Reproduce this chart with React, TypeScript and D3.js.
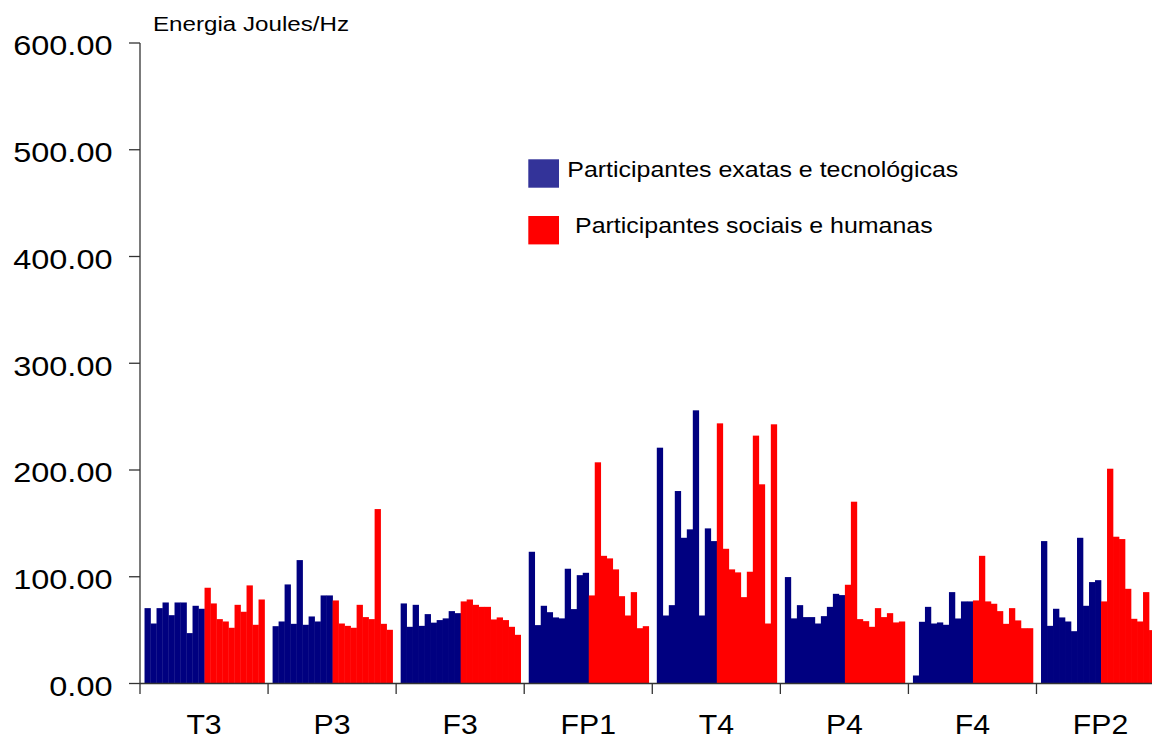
import React from "react";
import * as d3 from "d3";

const groups = ["T3", "P3", "F3", "FP1", "T4", "P4", "F4", "FP2"];
const yTicks = [0, 100, 200, 300, 400, 500, 600];

// Participantes exatas e tecnológicas (10 participants per electrode)
const exatas: number[][] = [
  [70.6, 56.2, 70.6, 75.9, 64.0, 75.9, 75.9, 47.2, 72.8, 70.0],
  [53.7, 58.1, 92.8, 55.9, 115.6, 55.0, 62.8, 58.1, 82.5, 82.5],
  [75.0, 53.1, 73.7, 54.0, 65.0, 57.0, 59.4, 61.0, 67.8, 65.9],
  [123.4, 54.7, 72.8, 66.8, 61.9, 61.0, 107.5, 69.7, 101.5, 103.7],
  [220.9, 63.7, 73.4, 180.3, 136.5, 144.4, 255.9, 63.7, 145.3, 133.4],
  [99.7, 61.0, 73.4, 62.2, 62.2, 56.2, 63.1, 71.8, 84.0, 82.8],
  [7.5, 57.8, 71.8, 56.2, 57.2, 55.0, 85.6, 60.9, 76.9, 76.9],
  [133.4, 54.0, 70.0, 61.9, 58.1, 49.0, 136.5, 72.8, 95.0, 96.8],
];

// Participantes sociais e humanas
const sociais: number[][] = [
  [89.7, 75.0, 60.3, 58.1, 52.2, 73.7, 67.2, 91.9, 55.0, 78.7],
  [77.8, 56.2, 54.0, 52.2, 73.7, 62.2, 60.3, 163.4, 55.9, 50.3],
  [76.9, 78.7, 73.7, 71.8, 71.8, 60.0, 61.9, 59.4, 53.1, 45.6],
  [82.5, 207.2, 119.6, 117.2, 106.9, 81.8, 63.7, 85.6, 51.8, 53.7],
  [243.7, 126.2, 106.9, 104.1, 80.9, 104.7, 232.2, 186.6, 56.2, 242.8],
  [92.5, 170.3, 60.3, 58.4, 53.1, 70.6, 62.2, 65.9, 57.2, 58.1],
  [77.8, 119.6, 76.9, 74.7, 67.8, 55.9, 70.6, 59.1, 51.8, 51.8],
  [76.9, 201.2, 137.5, 135.3, 88.7, 60.6, 58.1, 85.6, 50.0, 50.0],
];

const legendLabels = [
  "Participantes exatas e tecnológicas",
  "Participantes sociais e humanas",
];

const W = 1152;
const H = 740;
const X0 = 140;
const GROUP_W = 128.07;
const BLUE = "#000080";
const RED = "#FF0000";

export default function App() {
  const x = d3
    .scaleBand<string>()
    .domain(groups)
    .range([X0, X0 + GROUP_W * groups.length])
    .padding(0);
  const idx = d3.range(20).map(String);
  const xi = d3
    .scaleBand<string>()
    .domain(idx)
    .range([0.5, x.bandwidth() + 0.5])
    .paddingInner(0)
    .paddingOuter(0.67);
  const y = d3.scaleLinear().domain([0, 600]).range([683.5, 43]);

  const bars: { key: string; x: number; w: number; y: number; h: number; c: string }[] = [];
  groups.forEach((g, gi) => {
    const vals = [...exatas[gi], ...sociais[gi]];
    vals.forEach((v, i) => {
      const bx = (x(g) as number) + (xi(String(i)) as number);
      bars.push({
        key: g + i,
        x: bx,
        w: xi.bandwidth(),
        y: y(v),
        h: y(0) - y(v),
        c: i < 10 ? BLUE : RED,
      });
    });
  });

  const tickFont = "Liberation Sans, Arial, Helvetica, sans-serif";
  const sx = 1.16;

  return (
    <svg
      width={W}
      height={H}
      style={{ position: "absolute", left: 0, top: 0, background: "#fff" }}
      fontFamily={tickFont}
    >
      <rect x={0} y={0} width={W} height={H} fill="#fff" />
      {bars.map((b) => (
        <rect key={b.key} x={b.x} y={b.y} width={b.w + 0.3} height={b.h} fill={b.c} />
      ))}
      {/* y axis */}
      <line x1={X0} x2={X0} y1={y(600)} y2={694} stroke="#333" strokeWidth={1.3} />
      {yTicks.map((t) => (
        <g key={t}>
          <line x1={X0 - 11} x2={X0} y1={y(t)} y2={y(t)} stroke="#333" strokeWidth={1.3} />
          <g transform={`translate(112.5,${y(t) + 12.3}) scale(${sx},1)`}>
            <text x={0} y={0} textAnchor="end" fontSize={28} fill="#000">
              {t.toFixed(2)}
            </text>
          </g>
        </g>
      ))}
      {/* x axis */}
      <line x1={X0} x2={W} y1={y(0)} y2={y(0)} stroke="#333" strokeWidth={1.3} />
      {groups.map((g) => (
        <g key={g}>
          <line
            x1={(x(g) as number) + GROUP_W}
            x2={(x(g) as number) + GROUP_W}
            y1={y(0)}
            y2={694}
            stroke="#333"
            strokeWidth={1.3}
          />
          <g transform={`translate(${(x(g) as number) + GROUP_W / 2},733.5) scale(1.12,1)`}>
            <text x={0} y={0} textAnchor="middle" fontSize={27} fill="#000">
              {g}
            </text>
          </g>
        </g>
      ))}
      {/* title */}
      <text x={153} y={30.7} fontSize={19.5} textLength={196} lengthAdjust="spacingAndGlyphs" fill="#000">
        Energia Joules/Hz
      </text>
      {/* legend */}
      <rect x={528.3} y={159.3} width={30.7} height={28.4} fill="#333399" />
      <text x={567.3} y={176.7} fontSize={21.5} textLength={391} lengthAdjust="spacingAndGlyphs" fill="#000">
        {legendLabels[0]}
      </text>
      <rect x={528.3} y={216} width={30.7} height={28.4} fill={RED} />
      <text x={575} y={233.3} fontSize={21.5} textLength={357.7} lengthAdjust="spacingAndGlyphs" fill="#000">
        {legendLabels[1]}
      </text>
    </svg>
  );
}
